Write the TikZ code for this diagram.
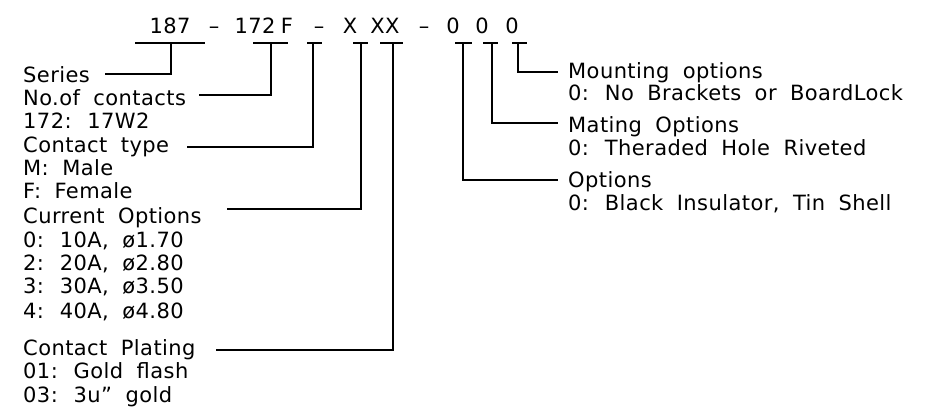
\documentclass[tikz,border=0pt]{standalone}
\usepackage{fontspec}
\setmainfont{DejaVu Sans}[LetterSpace=2,WordSpace=1.9]

\begin{document}
\begin{tikzpicture}[x=1pt,y=-1pt]
        \tikzset{txt/.style={inner sep=0pt,anchor=base west,font=\fontsize{21}{24}\selectfont},
            code/.style={txt,anchor=base},
            wire/.style={draw,line width=1.3pt}}
        \useasboundingbox (0,0) rectangle (929,418);
        % part number
        \node[code] (p187) at (170,33) {187};
        \node[code] (d1) at (214,33) {--};
        \node[code] (p172) at (255,33) {172};
        \node[code] (pf) at (287,33) {F};
        \node[code] (d2) at (319,33) {--};
        \node[code] (px) at (350,33) {X};
        \node[code] (pxx) at (385,33) {XX};
        \node[code] (d3) at (424,33) {--};
        \node[code] (po1) at (453,33) {0};
        \node[code] (po2) at (482,33) {0};
        \node[code] (po3) at (512,33) {0};
        % bars under the part number
        \foreach \nm/\l/\m/\r in {b1/135/171/205, b2/253/271/288, b3/307/313/322,
                b4/353/361/368, b5/380/393/403, b6/455/463/472, b7/483/492/498, b8/512/518/527} {
            \coordinate (\nm) at (\m,43);
            \draw[wire] (\l,43) -- (\r,43);
        }
        % left side
        \node[txt] (series) at (23,82) {Series};
        \node[txt] (noc) at (23,105) {No.of contacts};
        \node[txt] (noc1) at (23,128) {172: 17W2};
        \node[txt] (ctype) at (23,152) {Contact type};
        \node[txt] (ct1) at (23,175) {M: Male};
        \node[txt] (ct2) at (23,198) {F: Female};
        \node[txt] (curr) at (23,223) {Current Options};
        \node[txt] (cu1) at (23,247) {0: 10A, ø1.70};
        \node[txt] (cu2) at (23,270) {2: 20A, ø2.80};
        \node[txt] (cu3) at (23,293) {3: 30A, ø3.50};
        \node[txt] (cu4) at (23,318) {4: 40A, ø4.80};
        \node[txt] (plat) at (23,355) {Contact Plating};
        \node[txt] (pl1) at (23,378) {01: Gold flash};
        \node[txt] (pl2) at (23,402) {03: 3u” gold};
        % right side
        \node[txt] (mount) at (568,78) {Mounting options};
        \node[txt] (mo1) at (568,100) {0: No Brackets or BoardLock};
        \node[txt] (mate) at (568,132) {Mating Options};
        \node[txt] (ma1) at (568,155) {0: Theraded Hole Riveted};
        \node[txt] (opt) at (568,187) {Options};
        \node[txt] (op1) at (568,210) {0: Black Insulator, Tin Shell};
        % connectors
        \draw[wire] (b1) |- ([xshift=15pt,yshift=8pt]series.base east);
        \draw[wire] (b2) |- ([xshift=13pt,yshift=10pt]noc.base east);
        \draw[wire] (b3) |- ([xshift=18pt,yshift=5pt]ctype.base east);
        \draw[wire] (b4) |- ([xshift=25pt,yshift=14pt]curr.base east);
        \draw[wire] (b5) |- ([xshift=20pt,yshift=5pt]plat.base east);
        \draw[wire] (b6) |- ([xshift=-10pt,yshift=7pt]opt.base west);
        \draw[wire] (b7) |- ([xshift=-10pt,yshift=9pt]mate.base west);
        \draw[wire] (b8) |- ([xshift=-10pt,yshift=6pt]mount.base west);
\end{tikzpicture}
\end{document}
